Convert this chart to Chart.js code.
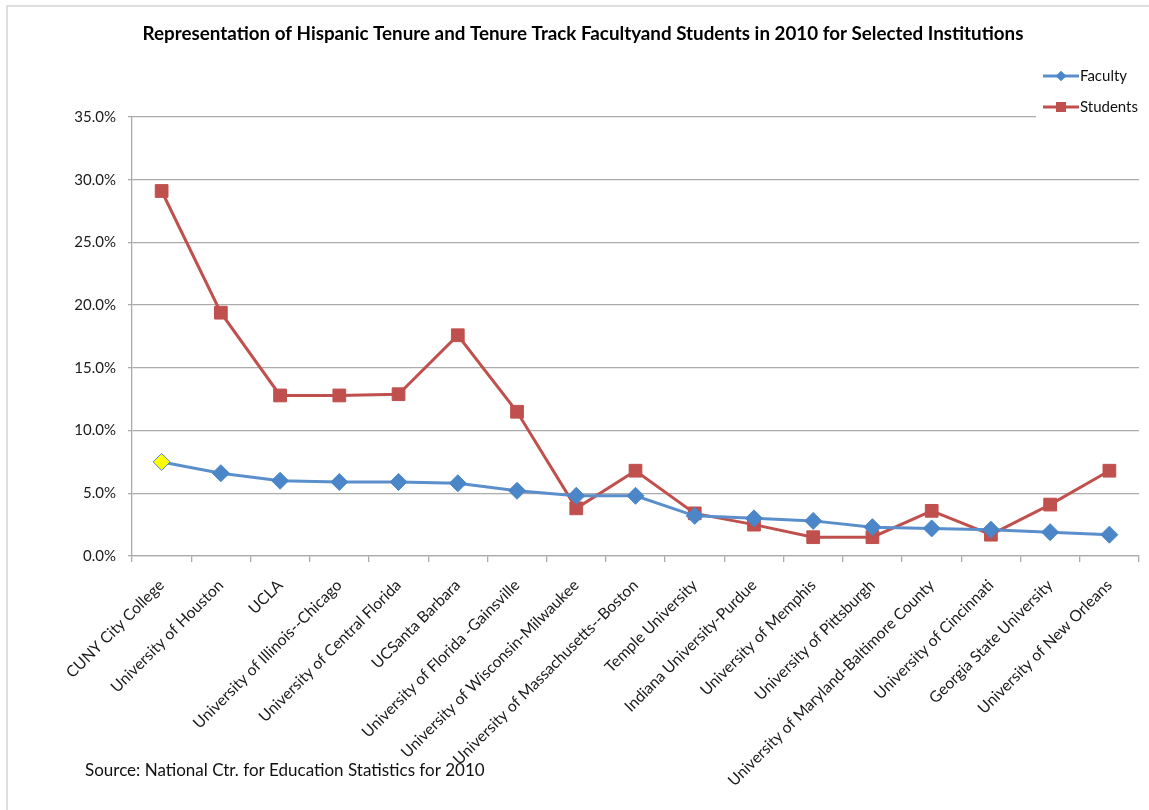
<!DOCTYPE html>
<html>
<head>
<meta charset="utf-8">
<script src="https://cdn.jsdelivr.net/npm/chart.js@4.4.1/dist/chart.umd.min.js"></script>
<style>
    html, body { margin: 0; padding: 0; background: #fff; }
</style>
</head>
<body>
<canvas id="grafica" width="1149" height="810"></canvas>
<script>
// Datos (porcentajes)
const instituciones = [
    "CUNY City College",
    "University of Houston",
    "UCLA",
    "University of Illinois--Chicago",
    "University of Central Florida",
    "UCSanta Barbara",
    "University of Florida -Gainsville",
    "University of Wisconsin-Milwaukee",
    "University of Massachusetts--Boston",
    "Temple University",
    "Indiana University-Purdue",
    "University of Memphis",
    "University of Pittsburgh",
    "University of Maryland-Baltimore County",
    "University of Cincinnati",
    "Georgia State University",
    "University of New Orleans"
];
const faculty  = [7.5, 6.6, 6.0, 5.9, 5.9, 5.8, 5.2, 4.8, 4.8, 3.2, 3.0, 2.8, 2.3, 2.2, 2.1, 1.9, 1.7];
const students = [29.1, 19.4, 12.8, 12.8, 12.9, 17.6, 11.5, 3.8, 6.8, 3.4, 2.5, 1.5, 1.5, 3.6, 1.7, 4.1, 6.8];
const yMin = 0;
const yMax = 35;
const yStep = 5;

const titulo = "Representation of Hispanic Tenure and Tenure Track Facultyand Students in 2010 for Selected Institutions";
const fuente = "Source: National Ctr. for Education Statistics for 2010";

const azulLinea = '#5b8fcc';
const azulPunto = '#4a86c8';
const rojo = '#c0504d';
const gris = '#ababab';

// Colores de los puntos de Faculty: el primero va en amarillo
const coloresFaculty = faculty.map((v, i) => i === 0 ? '#ffff00' : azulPunto);

// Marco, titulo, fuente y leyenda dibujados a mano
const decoracion = {
    id: 'decoracion',
    afterDraw(chart) {
        const ctx = chart.ctx;
        ctx.save();

        // marco exterior
        ctx.strokeStyle = '#d4d4d4';
        ctx.lineWidth = 1.5;
        ctx.beginPath();
        ctx.moveTo(7, 812);
        ctx.lineTo(7, 6);
        ctx.lineTo(1152, 6);
        ctx.stroke();

        // titulo
        ctx.fillStyle = '#000';
        ctx.font = 'bold 18.8px Lato';
        ctx.textAlign = 'center';
        ctx.textBaseline = 'middle';
        ctx.fillText(titulo, 583, 34);

        // fuente
        ctx.font = '17px Lato';
        ctx.textAlign = 'left';
        ctx.fillStyle = '#111';
        ctx.fillText(fuente, 85, 771);

        // leyenda (tapa la linea de 35% bajo ella)
        ctx.fillStyle = '#fff';
        ctx.fillRect(1036, 60, 113, 64);
        const items = [
            { txt: 'Faculty', color: azulLinea, punto: azulPunto, estilo: 'rectRot', y: 76 },
            { txt: 'Students', color: rojo, punto: rojo, estilo: 'rect', y: 107 }
        ];
        items.forEach(it => {
            ctx.strokeStyle = it.color;
            ctx.lineWidth = 3;
            ctx.beginPath();
            ctx.moveTo(1043, it.y);
            ctx.lineTo(1079, it.y);
            ctx.stroke();
            ctx.fillStyle = it.punto;
            Chart.helpers.drawPoint(ctx, { pointStyle: it.estilo, radius: it.estilo === 'rect' ? 7 : 5, rotation: 0, borderWidth: 0 }, 1061, it.y);
            ctx.fill();
            ctx.fillStyle = '#111';
            ctx.font = '15px Lato';
            ctx.textAlign = 'left';
            ctx.textBaseline = 'middle';
            ctx.fillText(it.txt, 1080, it.y);
        });

        ctx.restore();
    }
};

const ctx = document.getElementById('grafica').getContext('2d');
const grafica = new Chart(ctx, {
    type: 'line',
    data: {
        labels: instituciones,
        datasets: [{
            label: 'Faculty',
            data: faculty,
            borderColor: azulLinea,
            borderWidth: 3,
            pointStyle: 'rectRot',
            pointRadius: 8.5,
            pointBackgroundColor: coloresFaculty,
            pointBorderColor: azulPunto,
            pointBorderWidth: 1,
            tension: 0
        }, {
            label: 'Students',
            data: students,
            borderColor: rojo,
            borderWidth: 3,
            pointStyle: 'rect',
            pointRadius: 9,
            pointBackgroundColor: rojo,
            pointBorderColor: rojo,
            pointBorderWidth: 1,
            tension: 0
        }]
    },
    options: {
        responsive: false,
        animation: false,
        devicePixelRatio: 1,
        layout: {
            padding: { left: 0, right: 2, top: 117, bottom: 0 }
        },
        plugins: {
            legend: { display: false },
            title: { display: false },
            tooltip: { enabled: false }
        },
        scales: {
            x: {
                offset: true,
                afterFit(scale) {
                    scale.height = 254;
                    scale.paddingLeft = 0;
                    scale.paddingRight = 0;
                },
                grid: {
                    offset: true,
                    drawOnChartArea: false,
                    drawTicks: true,
                    tickLength: 6,
                    color: gris,
                    lineWidth: 1.3
                },
                border: { color: gris, width: 1.3 },
                ticks: {
                    autoSkip: false,
                    minRotation: 45,
                    maxRotation: 45,
                    padding: 14,
                    color: '#1a1a1a',
                    font: { family: 'Lato', size: 15.7 }
                }
            },
            y: {
                min: yMin,
                max: yMax,
                afterFit(scale) {
                    scale.width = 132;
                    scale.paddingTop = 0;
                    scale.paddingBottom = 0;
                },
                grid: {
                    color: gris,
                    lineWidth: 1.3,
                    tickLength: 4
                },
                border: { color: gris, width: 1.3 },
                ticks: {
                    stepSize: yStep,
                    padding: 12,
                    color: '#1a1a1a',
                    font: { family: 'Lato', size: 15 },
                    callback: v => v.toFixed(1) + '%'
                }
            }
        }
    },
    plugins: [decoracion]
});
</script>
</body>
</html>
